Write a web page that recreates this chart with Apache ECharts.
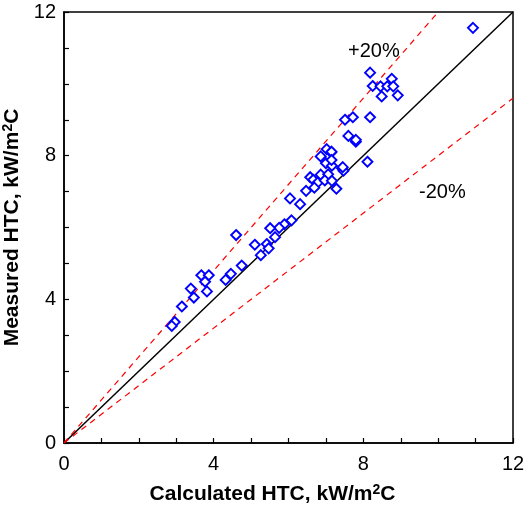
<!DOCTYPE html>
<html>
<head>
<meta charset="utf-8">
<script src="https://cdn.jsdelivr.net/npm/echarts@6/dist/echarts.min.js"></script>
<style>
  html, body { margin: 0; padding: 0; background: #fff; }
  #chart { width: 525px; height: 519px; }
</style>
</head>
<body>
<div id="chart"></div>
<script>
// Calculated vs measured heat transfer coefficient (kW/m2C)
var calculatedHTC = [
  4.60, 5.10, 5.42, 5.47, 5.64, 5.26, 4.75, 4.46, 4.32, 3.67, 3.87, 3.77, 3.39, 3.82, 3.47, 3.15, 2.96, 2.88,
  7.02, 6.86, 7.14, 7.00, 7.16, 7.43, 7.47, 7.80, 6.86, 7.06, 6.58, 6.66, 6.78, 6.97, 7.16, 6.69, 6.47, 7.28,
  6.04, 6.31, 6.08, 5.89, 5.75, 5.51,
  8.18, 8.25, 8.46, 8.64, 8.76, 8.80, 8.49, 8.92, 7.51, 7.72, 8.18, 7.60, 7.80, 7.15, 7.15, 7.45, 8.11,
  10.93
];
var measuredHTC = [
  5.79, 5.52, 5.54, 5.42, 5.73, 5.23, 4.94, 4.71, 4.54, 4.67, 4.67, 4.49, 4.30, 4.22, 4.05, 3.80, 3.37, 3.26,
  8.18, 7.98, 8.09, 7.79, 7.72, 7.65, 7.58, 8.39, 7.47, 7.48, 7.40, 7.33, 7.25, 7.31, 7.30, 7.11, 7.02, 7.08,
  6.81, 6.65, 6.20, 6.09, 5.99, 5.98,
  10.31, 9.94, 9.93, 9.93, 10.14, 9.93, 9.65, 9.68, 9.00, 9.07, 9.07, 8.55, 8.44, 8.11, 7.88, 7.68, 7.83,
  11.56
];

// Reference lines: perfect agreement and +/-20% bands
var bandRatios = [1.0, 1.2, 0.8];
var bandLabels = ['', '+20%', '-20%'];
var axisTicks = [0, 4, 8, 12];
var axisMax = 12;

var points = calculatedHTC.map(function (x, i) { return [x, measuredHTC[i]]; });

function bandLine(r) {
  // end where the line leaves the plotting box
  var xEnd = Math.min(axisMax, axisMax / r);
  return [[0, 0], [xEnd, xEnd * r]];
}

var font = '"Liberation Sans", Arial, Helvetica, sans-serif';

function axisCfg(nameText, isY) {
  return {
    type: 'value',
    min: 0,
    max: axisMax,
    interval: 1,
    name: nameText,
    nameLocation: 'middle',
    nameGap: isY ? 23 : 40,
    nameTextStyle: {
      fontFamily: font, fontSize: 21, fontWeight: 'bold', color: '#000',
      padding: isY ? [0, 0, 0, 0] : [0, 32, 0, 0],
      rich: {
        sup: { fontFamily: font, fontSize: 14, fontWeight: 'bold', color: '#000', verticalAlign: 'top', padding: [0, 0, 9, 0] }
      }
    },
    axisLine: { show: true, lineStyle: { color: '#000', width: 1.5 } },
    axisTick: { show: true, inside: true, length: 5, lineStyle: { color: '#000', width: 1.2 } },
    splitLine: { show: false },
    axisLabel: {
      fontFamily: font, fontSize: 20, color: '#000', margin: isY ? 8 : 11,
      formatter: function (v) { return axisTicks.indexOf(v) >= 0 ? String(v) : ''; }
    }
  };
}

var chart = echarts.init(document.getElementById('chart'), null, { renderer: 'canvas' });

var series = [];
bandRatios.forEach(function (r, i) {
  series.push({
    type: 'line',
    data: bandLine(r),
    symbol: 'none',
    silent: true,
    lineStyle: r === 1
      ? { color: '#000', width: 1.5, type: 'solid' }
      : { color: '#ff0000', width: 1.2, type: [6, 5] },
    z: 1
  });
});
series.push({
  type: 'scatter',
  data: points,
  symbol: 'diamond',
  symbolSize: 10,
  itemStyle: { color: '#fff', borderColor: '#0000ff', borderWidth: 1.9, opacity: 1 },
  z: 3
});

chart.setOption({
  animation: false,
  backgroundColor: '#fff',
  grid: {
    left: 64, right: 12, top: 12, bottom: 76,
    outerBoundsMode: 'none',
    show: true, borderColor: '#000', borderWidth: 1.5, backgroundColor: 'transparent'
  },
  xAxis: axisCfg('Calculated HTC, kW/m{sup|2}C', false),
  yAxis: axisCfg('Measured HTC, kW/m{sup|2}C', true),
  series: series,
  graphic: [
    { type: 'text', left: 348, top: 41, style: { text: bandLabels[1], font: '20px ' + font, fill: '#000' } },
    { type: 'text', left: 419, top: 182, style: { text: bandLabels[2], font: '20px ' + font, fill: '#000' } }
  ]
});
</script>
</body>
</html>
